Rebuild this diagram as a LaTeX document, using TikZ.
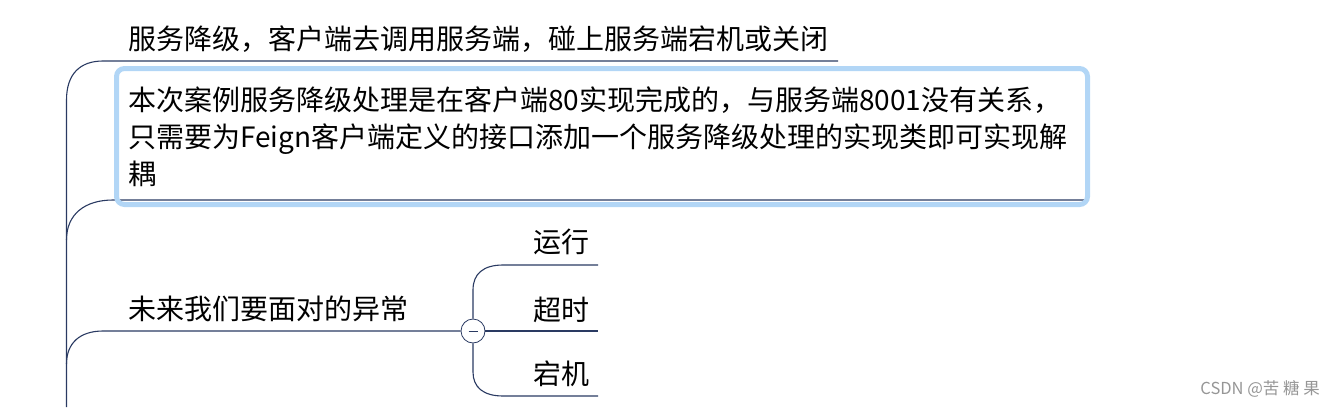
\documentclass[tikz,border=0pt]{standalone}
\usepackage{fontspec}
\setmainfont{Noto Sans CJK SC}
\usetikzlibrary{positioning}
\definecolor{branchc}{RGB}{42,58,98}
\definecolor{selblue}{RGB}{178,214,246}
\definecolor{markgray}{RGB}{150,150,150}

\begin{document}
\begin{tikzpicture}[x=1pt,y=-1pt,
  branch/.style={draw=branchc,line width=1.1pt},
  topic/.style={inner sep=0pt,anchor=base west,font=\fontsize{28}{37}\selectfont}]
\useasboundingbox (0,0) rectangle (1335,407);
% topics
\node[topic] (title) at (128,49) {服务降级，客户端去调用服务端，碰上服务端宕机或关闭};
\node[topic,anchor=north west,align=left] (note) at (128,87)
  {本次案例服务降级处理是在客户端80实现完成的，与服务端8001没有关系，\\
   只需要为Feign客户端定义的接口添加一个服务降级处理的实现类即可实现解\\
   耦};
\node[topic] (future) at (128,319) {未来我们要面对的异常};
\node[topic] (run) at (533,252) {运行};
\node[topic] (timeout) at (533,320) {超时};
\node[topic] (crash) at (533,384) {宕机};
\node[circle,draw=branchc,line width=0.8pt,fill=white,minimum size=24pt,inner sep=0pt] (fold) at (473,331) {};
\node[font=\fontsize{16.5}{16.5}\selectfont,text=markgray,anchor=base east,inner sep=0pt] (mark) at (1320,394) {CSDN @苦 糖 果};
% ends of the branch lines
\coordinate (trunk) at (66.5,407);
\coordinate (end1) at (838,61);
\coordinate (end2) at (1085,200);
\coordinate (end3) at (598,265);
\coordinate (end4) at (598,331);
\coordinate (end5) at (598,396);
% trunk and branches
\draw[branch] (trunk) -- (66.5,100) .. controls (66.5,74) and (80,61) .. (103,61) -- (end1);
\draw[branch] (66.5,240) .. controls (66.5,214) and (85,200) .. (113,200) -- (end2);
\draw[branch] (66.5,364) .. controls (66.5,343) and (80,331) .. (103,331) -- (fold.west);
\draw[branch] (fold.north) -- (473,290) .. controls (473,274) and (483,265) .. (503,265) -- (end3);
\draw[branch] (fold.east) -- (end4);
\draw[branch] (fold.south) -- (473,372) .. controls (473,387) and (483,396) .. (503,396) -- (end5);
\draw[branchc,line width=0.9pt] ([xshift=-4.5pt]fold.center) -- ([xshift=4.5pt]fold.center);
% selection frame of the note
\draw[selblue,line width=5pt,rounded corners=8pt] (116.5,68.5) rectangle (1087.5,204.5);
\end{tikzpicture}
\end{document}
